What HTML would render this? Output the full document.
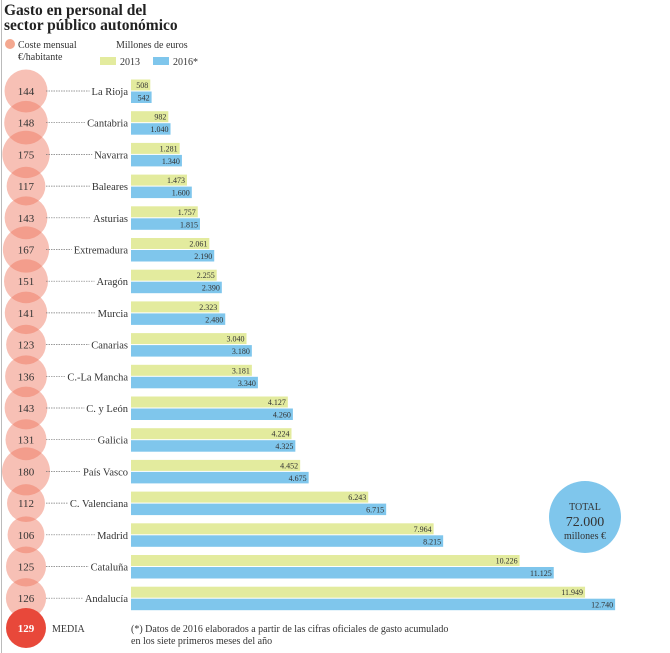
<!DOCTYPE html>
<html><head><meta charset="utf-8"><style>
body{margin:0;background:#fff;}
svg{display:block;font-family:"Liberation Serif",serif;}
</style></head><body>
<svg id="s" width="670" height="653" viewBox="0 0 670 653" xmlns="http://www.w3.org/2000/svg">
<line x1="1.5" y1="0" x2="1.5" y2="653" stroke="#bbb"/>
<text x="4" y="15" font-size="15.5" font-weight="bold" fill="#222">Gasto en personal del</text>
<text x="4" y="30" font-size="15.5" font-weight="bold" fill="#222">sector público autonómico</text>
<circle cx="10" cy="44" r="5" fill="#f4a890"/>
<text x="18" y="48" font-size="10" fill="#333">Coste mensual</text>
<text x="18" y="60" font-size="10" fill="#333">€/habitante</text>
<text x="116" y="48" font-size="10" fill="#333">Millones de euros</text>
<rect x="100" y="57" width="16" height="8" fill="#e3eb9e"/>
<text x="120" y="65" font-size="10" fill="#333">2013</text>
<rect x="153" y="57" width="16" height="8" fill="#7fc6ec"/>
<text x="173" y="65" font-size="10" fill="#333">2016*</text>
<g id="rows"></g>
<circle cx="26" cy="628" r="20" fill="#e8483a"/>
<text x="26" y="632" font-size="11" font-weight="bold" fill="#fff" text-anchor="middle">129</text>
<text x="52" y="632" font-size="10" fill="#333">MEDIA</text>
<text x="131" y="632" font-size="10" fill="#333">(*) Datos de 2016 elaborados a partir de las cifras oficiales de gasto acumulado</text>
<text x="131" y="644" font-size="10" fill="#333">en los siete primeros meses del año</text>
<circle cx="585" cy="517" r="36" fill="#7fc6ec"/>
<text x="585" y="510" font-size="10" fill="#333" text-anchor="middle">TOTAL</text>
<text x="585" y="526" font-size="14" fill="#333" text-anchor="middle">72.000</text>
<text x="585" y="539" font-size="10" fill="#333" text-anchor="middle">millones €</text>
</svg>
<script>
var d=[["La Rioja",144,508,542],["Cantabria",148,982,1040],["Navarra",175,1281,1340],["Baleares",117,1473,1600],["Asturias",143,1757,1815],["Extremadura",167,2061,2190],["Aragón",151,2255,2390],["Murcia",141,2323,2480],["Canarias",123,3040,3180],["C.-La Mancha",136,3181,3340],["C. y León",143,4127,4260],["Galicia",131,4224,4325],["País Vasco",180,4452,4675],["C. Valenciana",112,6243,6715],["Madrid",106,7964,8215],["Cataluña",125,10226,11125],["Andalucía",126,11949,12740]];
function f(v){var s=String(v);return s.length>3?s.slice(0,-3)+"."+s.slice(-3):s;}
var h="",c="",t="";
d.forEach(function(r,i){var y=91+i*31.7,rad=1.79*Math.sqrt(r[1]);
c+='<circle cx="26" cy="'+y+'" r="'+rad+'" fill="rgba(238,115,90,0.45)"/>';
t+='<text x="26" y="'+(y+4)+'" font-size="11" fill="#333" text-anchor="middle">'+r[1]+'</text>';
h+='<line class="ld" data-y="'+y+'" x1="46" y1="'+y+'" x2="100" y2="'+y+'" stroke="#777" stroke-width="0.7" stroke-dasharray="1.5,1"/>';
h+='<text class="lb" x="128" y="'+(y+4)+'" font-size="10.5" fill="#333" text-anchor="end">'+r[0]+'</text>';
var w1=r[2]*0.038,w2=r[3]*0.038;
h+='<rect x="131" y="'+(y-11.5)+'" width="'+w1+'" height="11" fill="#e3eb9e"/>';
h+='<rect x="131" y="'+(y+0.5)+'" width="'+w2+'" height="11.5" fill="#7fc6ec"/>';
h+='<text x="'+(129+w1)+'" y="'+(y-3)+'" font-size="8" fill="#333" text-anchor="end">'+f(r[2])+'</text>';
h+='<text x="'+(129+w2)+'" y="'+(y+9.5)+'" font-size="8" fill="#333" text-anchor="end">'+f(r[3])+'</text>';
});
document.getElementById("rows").innerHTML=c+t+h;
var lds=document.querySelectorAll(".ld"),lbs=document.querySelectorAll(".lb");
for(var i=0;i<lds.length;i++){var w=lbs[i].getComputedTextLength();lds[i].setAttribute("x2",126-w);}
</script>
</body></html>
